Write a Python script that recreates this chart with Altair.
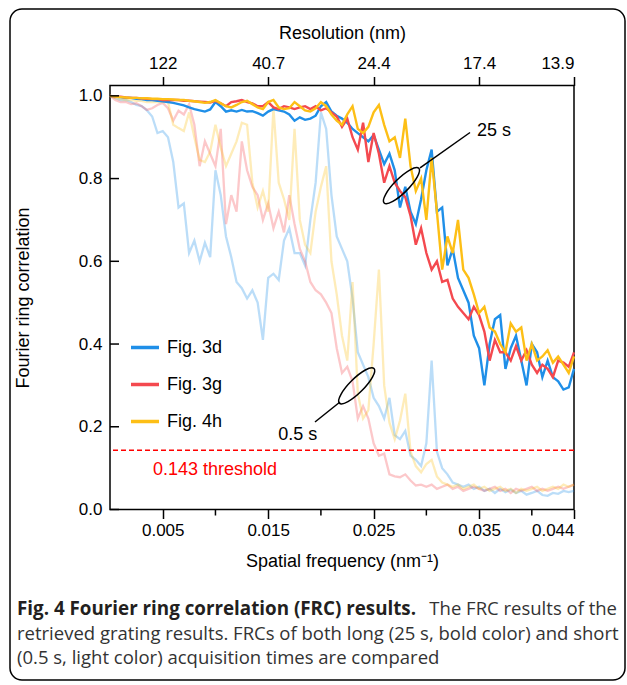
import altair as alt
import pandas as pd

# ---------------- data ----------------
freq = [round(i * 0.0005, 4) for i in range(89)]  # spatial frequency grid (nm^-1)

fig3d_25s = [1.00, 0.998, 0.997, 0.995, 0.995, 0.993, 0.992, 0.99, 0.99, 0.988,
             0.987, 0.985, 0.983, 0.98, 0.977, 0.972, 0.968, 0.965, 0.962, 0.967,
             0.985, 0.975, 0.962, 0.965, 0.962, 0.966, 0.962, 0.963, 0.958, 0.952,
             0.962, 0.968, 0.965, 0.962, 0.955, 0.94, 0.948, 0.942, 0.945, 0.952,
             0.975, 0.985, 0.962, 0.952, 0.945, 0.935, 0.92, 0.91, 0.9, 0.89,
             0.905, 0.87, 0.835, 0.86, 0.82, 0.73, 0.78, 0.72, 0.69, 0.75,
             0.82, 0.87, 0.72, 0.73, 0.59, 0.63, 0.56, 0.53, 0.50, 0.42,
             0.39, 0.30, 0.40, 0.46, 0.47, 0.34, 0.39, 0.42, 0.36, 0.30,
             0.40, 0.38, 0.32, 0.36, 0.32, 0.31, 0.29, 0.295, 0.34]
fig3g_25s = [1.0, 0.998, 0.998, 0.996, 0.995, 0.995, 0.994, 0.993, 0.992, 0.992,
             0.99, 0.99, 0.99, 0.99, 0.988, 0.988, 0.987, 0.986, 0.985, 0.984,
             0.988, 0.982, 0.975, 0.985, 0.987, 0.99, 0.985, 0.982, 0.975, 0.975,
             0.985, 0.972, 0.968, 0.975, 0.972, 0.968, 0.972, 0.975, 0.968, 0.975,
             0.965, 0.97, 0.96, 0.95, 0.925, 0.945, 0.9, 0.87, 0.935, 0.84,
             0.91, 0.86, 0.79, 0.83, 0.79, 0.77, 0.755, 0.71, 0.64, 0.68,
             0.62, 0.58, 0.6, 0.55, 0.555, 0.51, 0.49, 0.475, 0.46, 0.49,
             0.47, 0.43, 0.36, 0.41, 0.38, 0.38, 0.36, 0.395, 0.36, 0.385,
             0.35, 0.33, 0.35, 0.34, 0.32, 0.36, 0.355, 0.345, 0.38]
fig4h_25s = [1.0, 0.998, 0.997, 0.996, 0.995, 0.995, 0.994, 0.994, 0.993, 0.993,
             0.992, 0.992, 0.991, 0.99, 0.99, 0.988, 0.987, 0.985, 0.983, 0.985,
             0.99, 0.982, 0.975, 0.972, 0.978, 0.985, 0.988, 0.98, 0.972, 0.968,
             0.985, 0.99, 0.972, 0.968, 0.97, 0.985, 0.975, 0.965, 0.962, 0.97,
             0.985, 0.975, 0.955, 0.94, 0.93, 0.955, 0.975, 0.92, 0.91, 0.925,
             0.96, 0.978, 0.93, 0.89, 0.9, 0.85, 0.945, 0.83, 0.77, 0.8,
             0.7, 0.85, 0.72, 0.58, 0.66, 0.62, 0.70, 0.58, 0.56, 0.52,
             0.475, 0.49, 0.44, 0.43, 0.40, 0.38, 0.45, 0.43, 0.44, 0.36,
             0.40, 0.36, 0.37, 0.385, 0.355, 0.37, 0.35, 0.33, 0.37]
fig3d_05s = [1.0, 0.995, 0.99, 0.99, 0.985, 0.978, 0.975, 0.965, 0.95, 0.91,
             0.915, 0.9, 0.84, 0.73, 0.74, 0.62, 0.65, 0.6, 0.645, 0.61,
             0.82, 0.76, 0.66, 0.61, 0.55, 0.535, 0.51, 0.53, 0.5, 0.41,
             0.56, 0.57, 0.555, 0.65, 0.68, 0.62, 0.62, 0.59, 0.70, 0.79,
             0.96, 0.92, 0.76, 0.66, 0.63, 0.6, 0.51, 0.38, 0.35, 0.32,
             0.27, 0.25, 0.22, 0.27, 0.18, 0.17, 0.19, 0.13, 0.12, 0.105,
             0.16, 0.36, 0.14, 0.10, 0.085, 0.065, 0.06, 0.055, 0.06, 0.05,
             0.055, 0.045, 0.05, 0.04, 0.05, 0.042, 0.048, 0.04, 0.045, 0.036,
             0.04, 0.045, 0.035, 0.033, 0.04, 0.038, 0.045, 0.042, 0.045]
fig3g_05s = [1.0, 0.99, 0.985, 0.985, 0.98, 0.982, 0.975, 0.966, 0.97, 0.978,
             0.983, 0.97, 0.94, 0.964, 0.955, 0.98, 0.93, 0.83, 0.89, 0.86,
             0.83, 0.92, 0.69, 0.76, 0.72, 0.89, 0.82, 0.78, 0.76, 0.70,
             0.74, 0.68, 0.72, 0.67, 0.76, 0.69, 0.63, 0.60, 0.55, 0.53,
             0.52, 0.50, 0.475, 0.39, 0.33, 0.345, 0.31, 0.22, 0.25, 0.22,
             0.16, 0.13, 0.135, 0.085, 0.08, 0.078, 0.085, 0.07, 0.058, 0.06,
             0.055, 0.06, 0.05, 0.055, 0.06, 0.05, 0.055, 0.045, 0.05, 0.055,
             0.05, 0.045, 0.05, 0.055, 0.045, 0.05, 0.04, 0.05, 0.045, 0.05,
             0.055, 0.045, 0.05, 0.045, 0.05, 0.055, 0.05, 0.055, 0.06]
fig4h_05s = [1.0, 0.995, 0.992, 0.99, 0.99, 0.988, 0.988, 0.985, 0.985, 0.985,
             0.985, 0.985, 0.93, 0.922, 0.915, 0.96, 0.9, 0.845, 0.84, 0.865,
             0.93, 0.875, 0.83, 0.86, 0.89, 0.935, 0.93, 0.79, 0.73, 0.77,
             0.72, 0.97, 0.79, 0.75, 0.70, 0.92, 0.70, 0.64, 0.62, 0.72,
             0.78, 0.83, 0.60, 0.52, 0.42, 0.36, 0.55, 0.28, 0.22, 0.24,
             0.40, 0.58, 0.30, 0.21, 0.17, 0.215, 0.28, 0.14, 0.105, 0.09,
             0.11, 0.12, 0.08, 0.065, 0.06, 0.055, 0.06, 0.05, 0.055, 0.06,
             0.05, 0.055, 0.045, 0.05, 0.055, 0.045, 0.05, 0.04, 0.05, 0.045,
             0.05, 0.055, 0.045, 0.05, 0.055, 0.05, 0.06, 0.055, 0.06]

figs = ["Fig. 3d", "Fig. 3g", "Fig. 4h"]
fig_colors = ["#1f8fe8", "#f4494f", "#fdbf16"]

freq_ticks = [0.005, 0.015, 0.025, 0.035, 0.044]
freq_minor = [0.01, 0.02, 0.03, 0.04]
res_labels = ["122", "40.7", "24.4", "17.4", "13.9"]
frc_ticks = [0.0, 0.2, 0.4, 0.6, 0.8, 1.0]
threshold = [0.143]

# annotation anchors (data coordinates)
ann_text = ["25 s", "0.5 s", "0.143 threshold"]
ann_text_f = [0.0348, 0.01596, 0.00408]
ann_text_v = [0.916, 0.180, 0.0955]
ann_text_c = ["black", "black", "#ff0000"]
ell_f = [0.02764, 0.02339]
ell_v = [0.783, 0.299]
lead_f1 = [0.0294, 0.02181]
lead_v1 = [0.8256, 0.2599]
lead_f2 = [0.03414, 0.01944]
lead_v2 = [0.9114, 0.2115]

caption_bold = "Fig. 4 Fourier ring correlation (FRC) results."
caption_l1 = "The FRC results of the"
caption_l2 = "retrieved grating results. FRCs of both long (25 s, bold color) and short"
caption_l3 = "(0.5 s, light color) acquisition times are compared"

# ---------------- tables ----------------
rows = []
for fig, t, vals in [("Fig. 3d", "0.5 s", fig3d_05s), ("Fig. 3g", "0.5 s", fig3g_05s),
                     ("Fig. 4h", "0.5 s", fig4h_05s), ("Fig. 3d", "25 s", fig3d_25s),
                     ("Fig. 3g", "25 s", fig3g_25s), ("Fig. 4h", "25 s", fig4h_25s)]:
    for f, v in zip(freq, vals):
        rows.append({"fig": fig, "time": t, "freq": f, "frc": v})
df = pd.DataFrame(rows)

W, H = 464, 424
FONT = "Liberation Sans"
xs = alt.Scale(domain=[0, 0.044], nice=False, zero=False)
ys = alt.Scale(domain=[0, 1.025], nice=False, zero=False)

label_expr = "[" + ",".join("'%s'" % s for s in res_labels) + "][indexof([" + \
    ",".join(str(v) for v in freq_ticks) + "], datum.value)]"

top_axis = alt.Axis(orient="top", values=freq_ticks, labelExpr=label_expr,
                    title="Resolution (nm)", tickSize=9, labelPadding=4, titlePadding=12)
bottom_axis = alt.Axis(orient="bottom", values=freq_ticks, format=".3f",
                       title="Spatial frequency (nm⁻¹)", tickSize=9, labelPadding=4,
                       titlePadding=14)
left_axis = alt.Axis(orient="left", values=frc_ticks, format=".1f", tickSize=0,
                     labelPadding=8, title="Fourier ring correlation", titlePadding=46)

legend = alt.Legend(title=None, orient="none", legendX=19, legendY=246,
                    symbolType="stroke", symbolSize=784, symbolStrokeWidth=3.5,
                    symbolOpacity=1, labelFont=FONT, labelFontSize=18,
                    labelColor="black", labelOffset=6, rowPadding=12, padding=0)
color_scale = alt.Scale(domain=figs, range=fig_colors)

light = alt.Chart(df).transform_filter(alt.datum.time == "0.5 s").mark_line(
    strokeWidth=2.3, opacity=0.3).encode(
    x=alt.X("freq:Q", scale=xs, axis=top_axis),
    y=alt.Y("frc:Q", scale=ys, axis=left_axis),
    color=alt.Color("fig:N", scale=color_scale, legend=legend),
)

bold = alt.Chart(df).transform_filter(alt.datum.time == "25 s").mark_line(
    strokeWidth=2.4).encode(
    x=alt.X("freq:Q", scale=xs, axis=bottom_axis),
    y=alt.Y("frc:Q", scale=ys, axis=None),
    color=alt.Color("fig:N", scale=color_scale, legend=legend),
)

thr = alt.Chart(pd.DataFrame({"v": threshold})).mark_rule(
    color="#ff0000", strokeWidth=1.5, strokeDash=[5, 3]).encode(
    y=alt.Y("v:Q", scale=ys, axis=None))

minor = alt.Chart(pd.DataFrame({"f": freq_minor})).mark_rule(
    color="black", strokeWidth=1.5).encode(
    x=alt.X("f:Q", scale=xs, axis=None), y=alt.value(H), y2=alt.value(H + 6))

yticks = alt.Chart(pd.DataFrame({"v": frc_ticks})).mark_rule(
    color="black", strokeWidth=1.5).encode(
    y=alt.Y("v:Q", scale=ys, axis=None), x=alt.value(0), x2=alt.value(9))

ann_df = pd.DataFrame({"t": ann_text, "f": ann_text_f, "v": ann_text_v, "c": ann_text_c})
ann = alt.Chart(ann_df).mark_text(align="left", baseline="middle", font=FONT,
                                  fontSize=18).encode(
    x=alt.X("f:Q", scale=xs, axis=None), y=alt.Y("v:Q", scale=ys, axis=None),
    text="t:N", color=alt.Color("c:N", scale=None, legend=None))

ellipse_path = "M -1 0 A 1 0.29 0 1 0 1 0 A 1 0.29 0 1 0 -1 0 Z"
ell = alt.Chart(pd.DataFrame({"f": ell_f, "v": ell_v})).mark_point(
    shape=ellipse_path, size=2401, angle=315, filled=False, stroke="black",
    strokeWidth=1.5, opacity=1).encode(
    x=alt.X("f:Q", scale=xs, axis=None), y=alt.Y("v:Q", scale=ys, axis=None))

lead = alt.Chart(pd.DataFrame({"f1": lead_f1, "v1": lead_v1, "f2": lead_f2,
                               "v2": lead_v2})).mark_rule(
    color="black", strokeWidth=1.5).encode(
    x=alt.X("f1:Q", scale=xs, axis=None), x2="f2:Q",
    y=alt.Y("v1:Q", scale=ys, axis=None), y2="v2:Q")

border = alt.Chart(pd.DataFrame({"k": [0]})).mark_rect(
    fill="transparent", stroke="black", strokeWidth=1.5, cornerRadius=12).encode(
    x=alt.value(-100), x2=alt.value(515), y=alt.value(-76.5), y2=alt.value(594.5))

cap_df = pd.DataFrame({"k": [0]})
cap_bold = alt.Chart(cap_df).mark_text(align="left", baseline="middle", font="Open Sans",
                                       fontSize=18.8, fontWeight="bold",
                                       color="#231f20").encode(
    x=alt.value(-93), y=alt.value(523.5), text=alt.value(caption_bold))
cap1 = alt.Chart(cap_df).mark_text(align="right", baseline="middle", font="Open Sans",
                                   fontSize=18.5, color="#333333").encode(
    x=alt.value(507), y=alt.value(523.5), text=alt.value(caption_l1))
cap2 = alt.Chart(cap_df).mark_text(align="left", baseline="middle", font="Open Sans",
                                   fontSize=18.5, color="#333333").encode(
    x=alt.value(-93), y=alt.value(548.5), text=alt.value(caption_l2))
cap3 = alt.Chart(cap_df).mark_text(align="left", baseline="middle", font="Open Sans",
                                   fontSize=18.5, color="#333333").encode(
    x=alt.value(-93), y=alt.value(572.5), text=alt.value(caption_l3))

chart = alt.layer(light, bold, thr, minor, yticks, ann, ell, lead, border,
                  cap_bold, cap1, cap2, cap3).resolve_axis(
    x="independent", y="independent").properties(
    width=W, height=H,
    padding={"left": 110, "top": 85.5, "right": 53, "bottom": 175.5},
    autosize=alt.AutoSizeParams(type="none"),
    background="white",
).configure_axis(
    labelFont=FONT, titleFont=FONT, labelFontSize=17, titleFontSize=18,
    titleFontWeight="normal", labelColor="black", titleColor="black",
    tickColor="black", tickWidth=1.5, grid=False, domain=False,
).configure_view(stroke="black", strokeWidth=1.5)

chart.save("out.html", embed_options={"renderer": "svg", "actions": False})
